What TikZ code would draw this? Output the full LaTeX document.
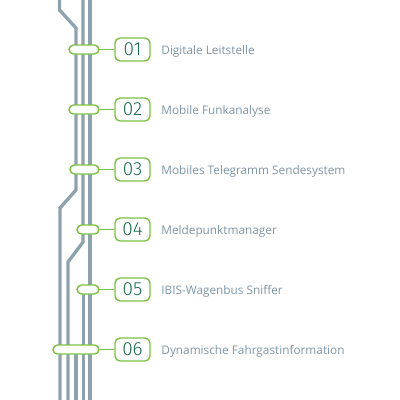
\documentclass[tikz,border=0pt]{standalone}
\usepackage{fontspec}
\setmainfont{Open Sans}
\newfontfamily\numfont{Fira Sans Light}
\usetikzlibrary{positioning}
\definecolor{track}{HTML}{8EA2AE}
\definecolor{lgreen}{HTML}{7CC242}
\definecolor{dgreen}{HTML}{1D6A4F}
\definecolor{greyt}{HTML}{7E95A5}

\begin{document}
\begin{tikzpicture}[x=1pt,y=-1pt,
    rail/.style={track,line width=3.3pt},
    pill/.style={draw=lgreen,fill=white,line width=1.4pt,rounded corners=4.5pt,minimum height=9pt,inner sep=0pt},
    numbox/.style={draw=lgreen,fill=white,line width=1.4pt,rounded corners=5pt,minimum width=35pt,minimum height=23pt,inner sep=0pt,text=dgreen,font=\numfont\fontsize{19}{19}\selectfont},
    stationtxt/.style={greyt,inner sep=0pt,yshift=-1.5pt,font=\fontsize{11.8}{13}\selectfont}]
    \useasboundingbox (0,0) rectangle (400,400);
    % tracks
    \draw[rail] (59.5,-2)--(59.5,10)--(76,28)--(76,190)--(60,208)--(60,402);
    \draw[rail] (83,-2)--(83,242)--(68,262)--(68,402);
    \draw[rail] (90,-2)--(90,402);
    \draw[rail] (83.5,290)--(83.5,402);
    \draw[rail] (76,350)--(76,402);
    % stations
    \foreach \i/\y/\cx/\w/\txt in {1/49.5/84/30/{Digitale Leitstelle},2/109.5/84/30/{Mobile Funkanalyse},3/169.5/84.5/29/{Mobiles Telegramm Sendesystem},4/229.5/88/22/{Meldepunktmanager},5/289.5/88/22/{IBIS-Wagenbus Sniffer},6/349.5/76/46/{Dynamische Fahrgastinformation}}{
      \node[pill,minimum width=\w pt] (p\i) at (\cx,\y) {};
      \node[numbox] (n\i) at (132.5,\y) {0\i};
      \node[stationtxt,right=10.5pt of n\i] (t\i) {\txt};
      \draw[lgreen,line width=1.4pt] (p\i) -- (n\i);}
  \end{tikzpicture}
\end{document}
